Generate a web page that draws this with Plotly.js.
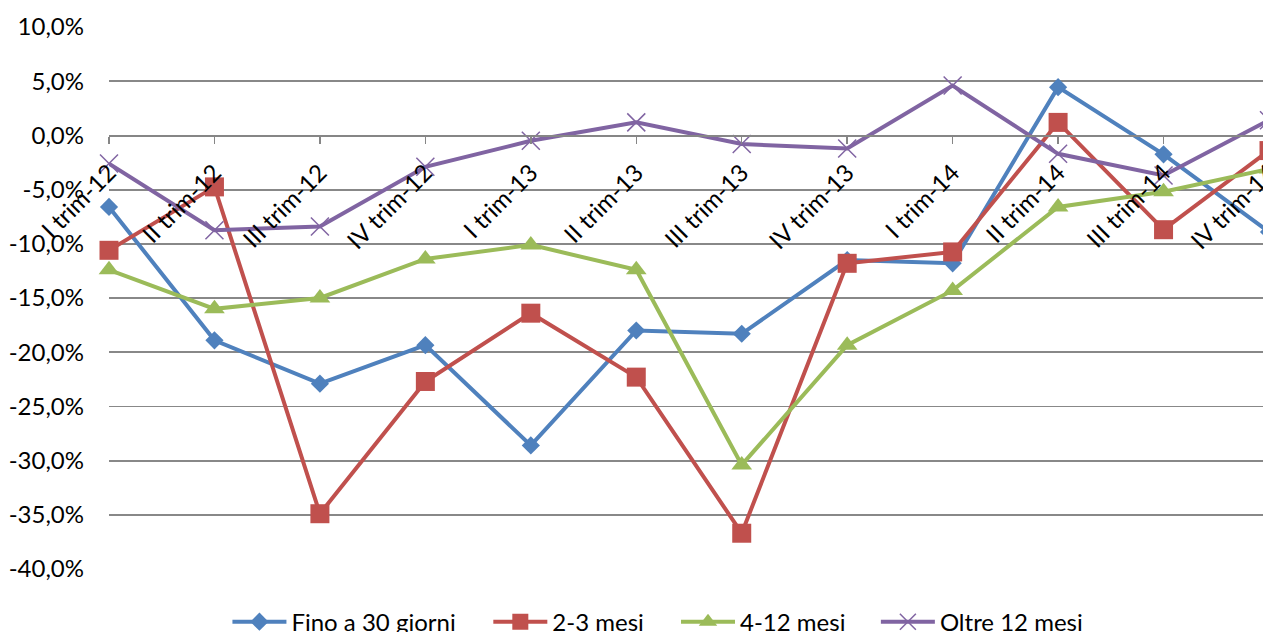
<!DOCTYPE html>
<html>
<head>
<meta charset="utf-8">
<script src="https://cdn.plot.ly/plotly-3.0.1.min.js"></script>
<style>
html, body { margin: 0; padding: 0; overflow: hidden; background: #fff; }
#chart { width: 1300px; height: 660px; }
</style>
</head>
<body>
<div id="chart"></div>
<script>
var categories = ['I trim-12', 'II trim-12', 'III trim-12', 'IV trim-12',
  'I trim-13', 'II trim-13', 'III trim-13', 'IV trim-13',
  'I trim-14', 'II trim-14', 'III trim-14', 'IV trim-14'];

var fino30 = [-6.6, -18.9, -22.9, -19.35, -28.6, -18.0, -18.3, -11.5, -11.8, 4.45, -1.75, -8.9];
var mesi2_3 = [-10.6, -4.75, -34.9, -22.7, -16.4, -22.3, -36.7, -11.8, -10.75, 1.2, -8.7, -1.4];
var mesi4_12 = [-12.4, -16.0, -15.0, -11.4, -10.1, -12.4, -30.4, -19.35, -14.3, -6.6, -5.2, -3.1];
var oltre12 = [-2.6, -8.75, -8.4, -2.9, -0.5, 1.2, -0.8, -1.2, 4.6, -1.7, -3.7, 1.4];

var seriesNames = ['Fino a 30 giorni', '2-3 mesi', '4-12 mesi', 'Oltre 12 mesi'];

var yTickVals = [-40, -35, -30, -25, -20, -15, -10, -5, 0, 5, 10];
var yTickText = ['-40,0%', '-35,0%', '-30,0%', '-25,0%', '-20,0%', '-15,0%', '-10,0%', '-5,0%', '0,0%', '5,0%', '10,0%'];

var FONT = 'Lato, "Open Sans", sans-serif';
var FS = 24;

function mk(name, y, color, symbol, size, legendId, extra) {
  var m = { color: color, symbol: symbol, size: size, line: { width: 0 } };
  if (extra) m.line = extra;
  return {
    type: 'scatter', mode: 'lines+markers', name: name,
    x: categories, y: y,
    line: { color: color, width: 4 },
    marker: m,
    cliponaxis: false,
    legend: legendId
  };
}

var traces = [
  mk(seriesNames[0], fino30, '#4F81BD', 'diamond', 14, 'legend'),
  mk(seriesNames[1], mesi2_3, '#C0504D', 'square', 19, 'legend2'),
  mk(seriesNames[2], mesi4_12, '#9BBB59', 'triangle-up', 18, 'legend3'),
  mk(seriesNames[3], oltre12, '#8064A2', 'x-thin-open', 18, 'legend4', { color: '#8064A2', width: 1.5 })
];

function leg(x) {
  return {
    orientation: 'h', x: x, xanchor: 'left', y: -0.098, yanchor: 'middle',
    itemwidth: 54,
    font: { family: FONT, size: FS, color: '#000' },
    bgcolor: 'rgba(0,0,0,0)'
  };
}

var layout = {
  width: 1300, height: 660,
  margin: { l: 109, r: 30.5, t: 26.7, b: 90.7 },
  paper_bgcolor: '#fff', plot_bgcolor: '#fff',
  font: { family: FONT, size: FS, color: '#000' },
  showlegend: true,
  legend: leg(0.1021),
  legend2: leg(0.3270),
  legend3: leg(0.4888),
  legend4: leg(0.6611),
  xaxis: {
    type: 'category', range: [0, 11],
    anchor: 'free', position: 0.8,
    showgrid: false, zeroline: false,
    showline: true, linecolor: '#868686', linewidth: 1.8,
    ticks: 'outside', ticklen: 7, tickcolor: '#868686', tickwidth: 1.5,
    tickangle: -45,
    ticklabelstandoff: 5,
    tickfont: { family: FONT, size: FS, color: '#000' }
  },
  xaxis2: {
    overlaying: 'x', anchor: 'free', position: 0.8,
    type: 'linear', range: [0, 11],
    tickvals: [0, 1, 2, 3, 4, 5, 6, 7, 8, 9, 10, 11],
    showticklabels: false, showgrid: false, zeroline: false, showline: false,
    ticks: 'inside', ticklen: 7, tickcolor: '#868686', tickwidth: 1.5
  },
  yaxis: {
    range: [-40, 10],
    tickvals: yTickVals, ticktext: yTickText,
    showgrid: true, gridcolor: '#888888', gridwidth: 1.8,
    zeroline: false, showline: false, ticks: '',
    ticklabelstandoff: 24,
    tickfont: { family: FONT, size: FS, color: '#000' }
  }
};

Plotly.newPlot('chart', traces, layout, { displayModeBar: false, staticPlot: true });
</script>
</body>
</html>
